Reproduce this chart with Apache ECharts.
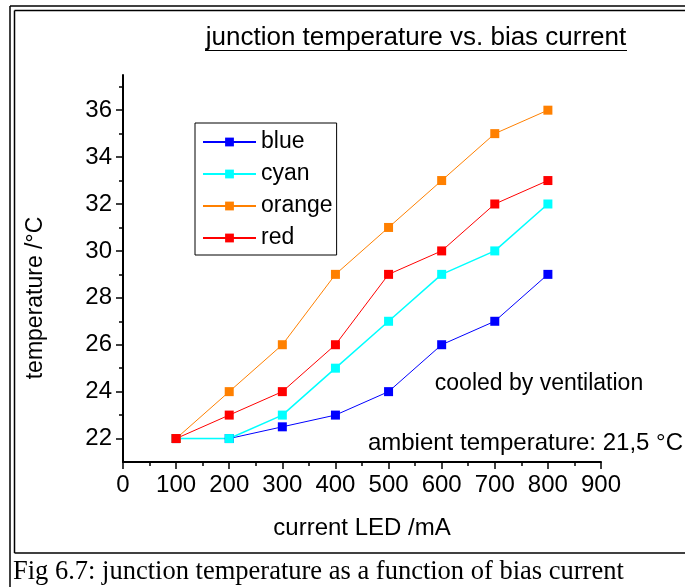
<!DOCTYPE html>
<html>
<head>
<meta charset="utf-8">
<script src="https://cdn.jsdelivr.net/npm/echarts@6/dist/echarts.min.js"></script>
<style>
html,body{margin:0;padding:0;background:#fff;}
#chart{width:685px;height:587px;}
</style>
</head>
<body>
<div id="chart"></div>
<script>
var currents = [100, 200, 300, 400, 500, 600, 700, 800];
var blueTemps = [22, 22, 22.5, 23, 24, 26, 27, 29];
var cyanTemps = [22, 22, 23, 25, 27, 29, 30, 32];
var orangeTemps = [22, 24, 26, 29, 31, 33, 35, 36];
var redTemps = [22, 23, 24, 26, 29, 30, 32, 33];
var seriesNames = ['blue', 'cyan', 'orange', 'red'];
var seriesColors = ['#0000ff', '#00ffff', '#ff8000', '#ff0000'];
var yMajorTicks = [22, 24, 26, 28, 30, 32, 34, 36];
var yMinorTicks = [23, 25, 27, 29, 31, 33, 35, 37];
var titleText = 'junction temperature vs. bias current';
var xName = 'current LED /mA';
var yName = 'temperature /°C';
var note1 = 'cooled by ventilation';
var note2 = 'ambient temperature: 21,5 °C';
var caption = 'Fig 6.7: junction temperature as a function of bias current';

var allTemps = [blueTemps, cyanTemps, orangeTemps, redTemps];
function pairs(ys) { return currents.map(function (x, i) { return [x, ys[i]]; }); }

var FONT = '"Liberation Sans", Arial, sans-serif';
var chart = echarts.init(document.getElementById('chart'), null, {renderer: 'canvas'});

var series = seriesNames.map(function (n, i) {
  return {
    name: n, type: 'line', data: pairs(allTemps[i]),
    symbol: 'rect', symbolSize: 9,
    itemStyle: {color: seriesColors[i]},
    lineStyle: {color: seriesColors[i], width: i === 1 ? 1.5 : 1},
    animation: false
  };
});

chart.setOption({
  animation: false,
  grid: {left: 123, top: 75, right: 84, bottom: 125, containLabel: false},
  xAxis: {
    type: 'value', min: 0, max: 900, interval: 100,
    axisLine: {show: true, onZero: false, lineStyle: {color: '#000', width: 2}},
    axisTick: {show: true, length: 7, lineStyle: {color: '#000', width: 1.5}},
    minorTick: {show: true, splitNumber: 2, length: 4, lineStyle: {color: '#000', width: 1.5}},
    splitLine: {show: false},
    axisLabel: {color: '#000', fontSize: 24, fontFamily: FONT, margin: 11}
  },
  yAxis: [{
    type: 'value', min: 21, max: 37.5,
    axisLine: {show: true, onZero: false, lineStyle: {color: '#000', width: 2}},
    axisTick: {show: true, length: 7, customValues: yMajorTicks, lineStyle: {color: '#000', width: 1.5}},
    splitLine: {show: false},
    axisLabel: {color: '#000', fontSize: 24, fontFamily: FONT, margin: 11, customValues: yMajorTicks}
  }, {
    type: 'value', min: 21, max: 37.5, position: 'left',
    axisLine: {show: false},
    axisTick: {show: true, length: 4, customValues: yMinorTicks, lineStyle: {color: '#000', width: 1.5}},
    splitLine: {show: false},
    axisLabel: {show: false}
  }],
  legend: {
    orient: 'vertical', left: 195, top: 123,
    data: seriesNames,
    borderColor: '#000', borderWidth: 1, borderRadius: 0,
    padding: [6, 4, 4, 7], itemGap: 6, itemWidth: 53, itemHeight: 11,
    textStyle: {color: '#000', fontSize: 23, fontFamily: FONT, lineHeight: 26},
    selectedMode: false
  },
  series: series,
  graphic: [
    {type: 'line', shape: {x1: 10, y1: 6, x2: 700, y2: 6}, style: {stroke: '#000', lineWidth: 1.5}, silent: true},
    {type: 'line', shape: {x1: 10, y1: 6, x2: 10, y2: 600}, style: {stroke: '#000', lineWidth: 1.5}, silent: true},
    {type: 'line', shape: {x1: 14.5, y1: 10.5, x2: 700, y2: 10.5}, style: {stroke: '#000', lineWidth: 1.5}, silent: true},
    {type: 'line', shape: {x1: 14.5, y1: 10.5, x2: 14.5, y2: 553}, style: {stroke: '#000', lineWidth: 1.5}, silent: true},
    {type: 'line', shape: {x1: 14.5, y1: 553, x2: 700, y2: 553}, style: {stroke: '#000', lineWidth: 1.5}, silent: true},
    {type: 'text', x: 416, y: 38, style: {text: titleText, fill: '#000', font: '26px ' + FONT, textAlign: 'center', textVerticalAlign: 'middle'}},
    {type: 'line', shape: {x1: 205, y1: 50.5, x2: 627, y2: 50.5}, style: {stroke: '#000', lineWidth: 1.2}, silent: true},
    {type: 'text', x: 362, y: 528, style: {text: xName, fill: '#000', font: '24px ' + FONT, textAlign: 'center', textVerticalAlign: 'middle'}},
    {type: 'text', x: 36, y: 298, rotation: Math.PI / 2, style: {text: yName, fill: '#000', font: '23px ' + FONT, textAlign: 'center', textVerticalAlign: 'middle'}},
    {type: 'text', x: 539, y: 384, style: {text: note1, fill: '#000', font: '23px ' + FONT, textAlign: 'center', textVerticalAlign: 'middle'}},
    {type: 'text', x: 683, y: 443, style: {text: note2, fill: '#000', font: '24px ' + FONT, textAlign: 'right', textVerticalAlign: 'middle'}},
    {type: 'text', x: 13, y: 572, style: {text: caption, fill: '#000', font: '26.5px "Liberation Serif", "Times New Roman", serif', textAlign: 'left', textVerticalAlign: 'middle'}}
  ]
});
</script>
</body>
</html>
